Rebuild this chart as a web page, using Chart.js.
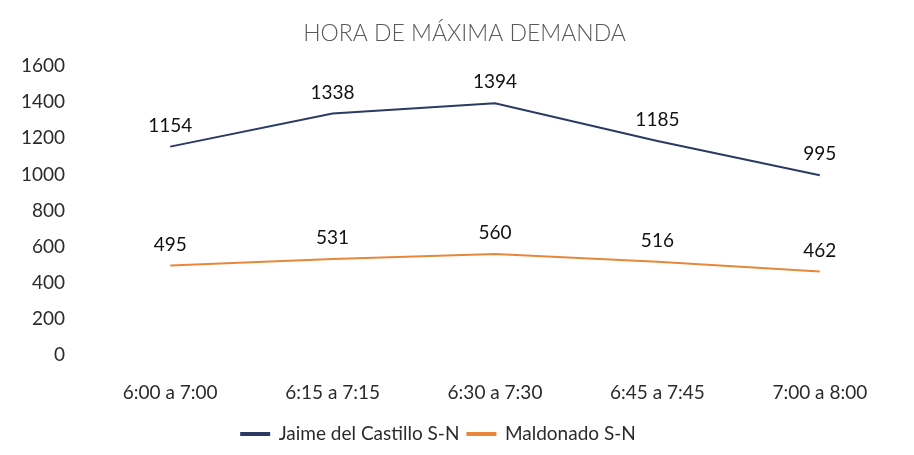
<!DOCTYPE html>
<html>
<head>
<meta charset="utf-8">
<script src="https://cdn.jsdelivr.net/npm/chart.js@4.4.1/dist/chart.umd.min.js"></script>
<style>
  html, body { margin: 0; padding: 0; background: #ffffff; }
  #wrap { width: 914px; height: 455px; position: relative; }
</style>
</head>
<body>
<div id="wrap"><canvas id="c" width="914" height="455"></canvas></div>
<script>
// Time windows (categories)
const categories = ['6:00 a 7:00', '6:15 a 7:15', '6:30 a 7:30', '6:45 a 7:45', '7:00 a 8:00'];
// Vehicle counts per window
const jaimeDelCastillo = [1154, 1338, 1394, 1185, 995];
const maldonado = [495, 531, 560, 516, 462];
// Y-axis range
const yMin = 0;
const yMax = 1600;
const yStep = 200;

const FONT = "Lato, 'Open Sans', sans-serif";
const TEXT = '#2b2b2b';

// Draws each point's value above it
const valueLabels = {
  id: 'valueLabels',
  afterDatasetsDraw(chart) {
    const ctx = chart.ctx;
    ctx.save();
    ctx.font = '19px ' + FONT;
    ctx.fillStyle = '#111111';
    ctx.textAlign = 'center';
    ctx.textBaseline = 'middle';
    chart.data.datasets.forEach((ds, i) => {
      const meta = chart.getDatasetMeta(i);
      meta.data.forEach((pt, j) => {
        ctx.fillText(String(ds.data[j]), pt.x, pt.y - 21);
      });
    });
    ctx.restore();
  }
};

// Nudges the title a little right and the legend a little left
const blockOffsets = {
  id: 'blockOffsets',
  afterLayout(chart) {
    const t = chart.titleBlock;
    if (t) { t.left += 14; t.right += 14; }
    const l = chart.legend;
    if (l) { l.left -= 12; l.right -= 12; }
  }
};

new Chart(document.getElementById('c'), {
  type: 'line',
  data: {
    labels: categories,
    datasets: [
      {
        label: 'Jaime del Castillo S-N',
        data: jaimeDelCastillo,
        borderColor: '#2a3a64',
        backgroundColor: '#2a3a64',
        borderWidth: 2,
        pointRadius: 0,
        tension: 0
      },
      {
        label: 'Maldonado S-N',
        data: maldonado,
        borderColor: '#e8873a',
        backgroundColor: '#e8873a',
        borderWidth: 2,
        pointRadius: 0,
        tension: 0
      }
    ]
  },
  options: {
    responsive: false,
    animation: false,
    layout: { padding: { left: 0, right: 13, top: 16, bottom: 1.5 } },
    plugins: {
      title: {
        display: true,
        text: 'HORA DE MÁXIMA DEMANDA',
        color: '#595959',
        font: { family: FONT, size: 23, weight: 300 },
        padding: { top: 4, bottom: 18.5 }
      },
      legend: {
        position: 'bottom',
        labels: {
          color: TEXT,
          font: { family: FONT, size: 19 },
          boxWidth: 28,
          boxHeight: 2,
          padding: 8
        }
      },
      tooltip: { enabled: false }
    },
    scales: {
      x: {
        offset: true,
        grid: { display: false, drawTicks: false },
        border: { display: false },
        ticks: {
          color: TEXT,
          font: { family: FONT, size: 19 },
          padding: 26,
          maxRotation: 0
        },
        afterFit(scale) { scale.height = 61.5; }
      },
      y: {
        min: yMin,
        max: yMax,
        grid: { display: false, drawTicks: false },
        border: { display: false },
        ticks: {
          stepSize: yStep,
          color: TEXT,
          font: { family: FONT, size: 19 },
          padding: 24,
          callback: (v) => String(v)
        },
        afterFit(scale) { scale.width = 89; }
      }
    }
  },
  plugins: [valueLabels, blockOffsets]
});
</script>
</body>
</html>
